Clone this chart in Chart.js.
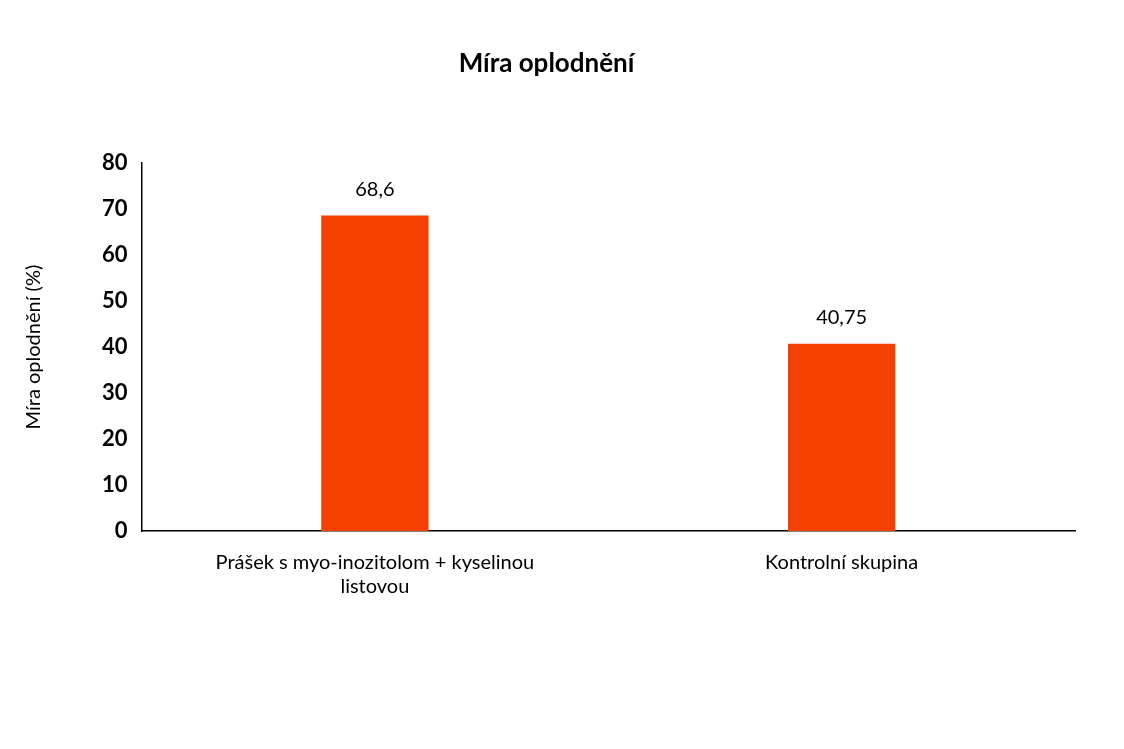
<!DOCTYPE html>
<html>
<head>
<meta charset="utf-8">
<script src="https://cdn.jsdelivr.net/npm/chart.js@4"></script>
<style>
  html, body { margin: 0; padding: 0; background: #fff; }
  #wrap { width: 1124px; height: 749px; }
</style>
</head>
<body>
<div id="wrap"><canvas id="chart"></canvas></div>
<script>
const categories = [['Prášek s myo-inozitolom + kyselinou', 'listovou'], 'Kontrolní skupina'];
const values = [68.6, 40.75];
const valueLabels = ['68,6', '40,75'];

Chart.defaults.font.family = 'Lato, "Open Sans", sans-serif';
Chart.defaults.color = '#000';

// draws value text above each bar
const barLabels = {
  id: 'barLabels',
  afterDatasetsDraw(chart) {
    const ctx = chart.ctx;
    const meta = chart.getDatasetMeta(0);
    ctx.save();
    ctx.font = '20px Lato, "Open Sans", sans-serif';
    ctx.fillStyle = '#000';
    ctx.textAlign = 'center';
    ctx.textBaseline = 'bottom';
    meta.data.forEach((bar, i) => {
      ctx.fillText(valueLabels[i], bar.x, bar.y - 16);
    });
    ctx.restore();
  }
};

new Chart(document.getElementById('chart'), {
  type: 'bar',
  data: {
    labels: categories,
    datasets: [{
      data: values,
      backgroundColor: '#f44100',
      barPercentage: 0.23,
      categoryPercentage: 1
    }]
  },
  options: {
    responsive: true,
    maintainAspectRatio: false,
    animation: false,
    layout: { padding: { left: 18, right: 49, top: 20, bottom: 130 } },
    plugins: {
      legend: { display: false },
      tooltip: { enabled: false },
      title: {
        display: true,
        text: 'Míra oplodnění',
        font: { size: 26, weight: 'bold' },
        color: '#000',
        padding: { top: 28, bottom: 84 }
      }
    },
    scales: {
      x: {
        grid: { display: false, drawTicks: false },
        border: { color: '#000', width: 1.5 },
        ticks: { font: { size: 20 }, padding: 20, maxRotation: 0 }
      },
      y: {
        min: 0, max: 80,
        grid: { display: false },
        border: { color: '#000', width: 1.5 },
        ticks: { stepSize: 10, font: { size: 22, weight: 'bold' }, padding: 6 },
        title: {
          display: true,
          text: 'Míra oplodnění (%)',
          font: { size: 20 },
          padding: { bottom: 50 }
        }
      }
    }
  },
  plugins: [barLabels]
});
</script>
</body>
</html>
